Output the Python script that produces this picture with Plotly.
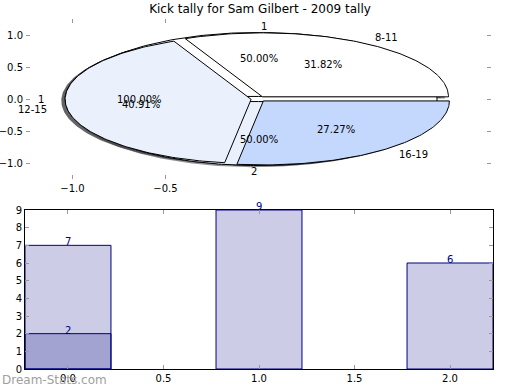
import numpy as np
import plotly.graph_objects as go

# ---------------- data ----------------
chart_title = "Kick tally for Sam Gilbert - 2009 tally"
age_groups = ["8-11", "12-15", "16-19"]
kicks_by_age = [7, 9, 6]
second_labels = ["1", "2"]
second_values = [1, 1]
third_labels = ["1"]
third_values = [1]
bar_positions = [0, 1, 2]
bar_values = [7, 9, 6]
overlay_positions = [0]
overlay_values = [2]
pie_xticks = [-1.0, -0.5]
pie_yticks = [1.0, 0.5, 0.0, -0.5, -1.0]
bar_xticks = [0.0, 0.5, 1.0, 1.5, 2.0]
bar_yticks = list(range(0, 10))
watermark = "Dream-Stats.com"

# ---------------- styles ----------------
FONT = "DejaVu Sans"
main_colors = ["#ffffff", "#eaf1fd", "#c4d8fd"]
second_colors = ["#ffffff", "#eaf1fd"]
third_colors = ["#ffffff"]
EXPLODE = 0.04
TICKC = "#999999"

fig = go.Figure()
annotations = []


def pie_shapes(values, labels, colors, explode):
    total = float(sum(values))
    theta1 = 0.0
    out = []
    for v, lab, col in zip(values, labels, colors):
        frac = v / total
        theta2 = theta1 + 360.0 * frac
        mid = np.deg2rad((theta1 + theta2) / 2.0)
        cx, cy = explode * np.cos(mid), explode * np.sin(mid)
        th = np.deg2rad(np.linspace(theta1, theta2, max(int(theta2 - theta1) + 2, 4)))
        ax = cx + np.cos(th)
        ay = cy + np.sin(th)
        if frac >= 0.999:
            xs, ys = list(ax), list(ay)
        else:
            xs = [cx] + list(ax) + [cx]
            ys = [cy] + list(ay) + [cy]
        out.append(dict(xs=xs, ys=ys, col=col, lab=lab, frac=frac, mid=mid, cx=cx, cy=cy))
        theta1 = theta2
    return out


pies = [
    pie_shapes(third_values, third_labels, third_colors, EXPLODE),
    pie_shapes(second_values, second_labels, second_colors, EXPLODE),
    pie_shapes(kicks_by_age, age_groups, main_colors, EXPLODE),
]

# shadows
for p in pies:
    for w in p:
        fig.add_trace(go.Scatter(
            x=[x - 0.02 for x in w["xs"]], y=[y - 0.025 for y in w["ys"]],
            mode="lines", fill="toself", fillcolor="rgba(60,60,60,0.55)",
            line=dict(width=0), hoverinfo="skip", xaxis="x", yaxis="y"))

# wedges
for p in pies:
    for w in p:
        fig.add_trace(go.Scatter(
            x=w["xs"], y=w["ys"], mode="lines", fill="toself", fillcolor=w["col"],
            line=dict(color="black", width=1), hoverinfo="skip", xaxis="x", yaxis="y"))

# labels
for p in pies:
    for w in p:
        lx = w["cx"] + 1.1 * np.cos(w["mid"])
        ly = w["cy"] + 1.1 * np.sin(w["mid"])
        annotations.append(dict(
            x=lx, y=ly, xref="x", yref="y", text=w["lab"], showarrow=False,
            xanchor="left" if lx > 0 else "right", yanchor="middle",
            font=dict(family=FONT, size=10, color="black")))
        px = w["cx"] + 0.6 * np.cos(w["mid"])
        py = w["cy"] + 0.6 * np.sin(w["mid"])
        annotations.append(dict(
            x=px, y=py, xref="x", yref="y", text="%.2f%%" % (w["frac"] * 100),
            showarrow=False, xanchor="center", yanchor="middle",
            font=dict(family=FONT, size=10, color="black")))

# bars
fig.add_trace(go.Bar(
    x=bar_positions, y=bar_values, width=0.45,
    marker=dict(color="rgba(0,0,128,0.2)", line=dict(color="navy", width=1)),
    xaxis="x2", yaxis="y2", hoverinfo="skip"))
fig.add_trace(go.Bar(
    x=overlay_positions, y=overlay_values, width=0.45,
    marker=dict(color="rgba(0,0,128,0.2)", line=dict(color="navy", width=1)),
    xaxis="x2", yaxis="y2", hoverinfo="skip"))

for xs, vs in ((bar_positions, bar_values), (overlay_positions, overlay_values)):
    for x, v in zip(xs, vs):
        annotations.append(dict(
            x=x, y=v, xref="x2", yref="y2", text=str(v), showarrow=False,
            xanchor="center", yanchor="bottom", yshift=-4,
            font=dict(family=FONT, size=10, color="navy")))

W, H = 520, 390
annotations.append(dict(
    x=0.0, y=1 - 380 / H, xref="paper", yref="paper", text=watermark,
    showarrow=False, xanchor="left", yanchor="middle",
    font=dict(family=FONT, size=12, color="#a0a0a0")))

axfont = dict(family=FONT, size=10, color="black")
common = dict(ticks="inside", ticklen=4, tickcolor=TICKC, showgrid=False, zeroline=False,
              mirror="ticks", tickfont=axfont, automargin=False)

fig.update_layout(
    width=W, height=H, margin=dict(l=0, r=0, t=0, b=0, autoexpand=False),
    paper_bgcolor="white", plot_bgcolor="white", showlegend=False,
    barmode="overlay",
    title=dict(text=chart_title, x=0.5, xanchor="center", y=1 - 9 / H, yanchor="middle",
               font=dict(family=FONT, size=12, color="black"), automargin=False),
    xaxis=dict(domain=[26 / W, 491 / W], range=[-1.25, 1.25], tickvals=pie_xticks,
               ticktext=["\u22121.0", "\u22120.5"], showline=True,
               linecolor="rgba(0,0,0,0)", fixedrange=True, anchor="y", **common),
    yaxis=dict(domain=[1 - 179 / H, 1 - 19 / H], range=[-1.25, 1.25], tickvals=pie_yticks,
               ticktext=["1.0", "0.5", "0.0", "\u22120.5", "\u22121.0"], showline=True,
               linecolor="rgba(0,0,0,0)", fixedrange=True, anchor="x", **common),
    xaxis2=dict(domain=[25 / W, 493 / W], range=[-0.225, 2.225], tickvals=bar_xticks,
                ticktext=["%.1f" % t for t in bar_xticks], showline=True,
                linecolor="black", linewidth=1, anchor="y2", **common),
    yaxis2=dict(domain=[1 - 369 / H, 1 - 210 / H], range=[0, 9], tickvals=bar_yticks,
                showline=True, linecolor="black", linewidth=1, anchor="x2", **common),
    annotations=annotations,
)

fig.write_html("out.html", config={"displayModeBar": False},
               post_script="document.body.style.margin='0px';")
